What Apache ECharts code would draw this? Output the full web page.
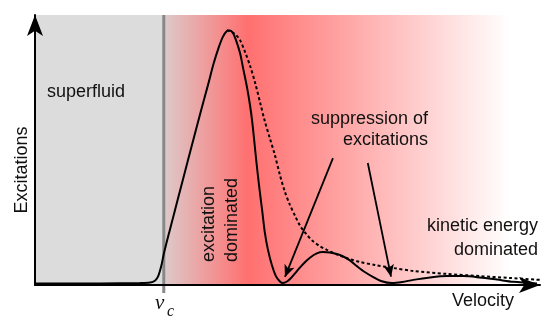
<!DOCTYPE html>
<html>
<head>
<meta charset="utf-8">
<script src="https://cdn.jsdelivr.net/npm/echarts@6/dist/echarts.min.js"></script>
<style>
  html, body { margin: 0; padding: 0; background: #ffffff; }
  #chart { width: 551px; height: 321px; }
</style>
</head>
<body>
<div id="chart"></div>
<script>
// Critical velocity v_c separating the superfluid regime
const criticalVelocity = 2.55;

// Excitations vs velocity, full response (solid curve)
const solidVelocity = [0, 1.29, 2.08, 2.28, 2.38, 2.44, 2.50, 2.55, 2.67, 2.83, 3.03, 3.27, 3.43, 3.54, 3.64, 3.72, 3.80, 3.86, 3.92, 3.98, 4.06, 4.12, 4.20, 4.26, 4.30, 4.34, 4.38, 4.44, 4.50, 4.55, 4.61, 4.69, 4.77, 4.85, 4.91, 4.99, 5.07, 5.19, 5.31, 5.45, 5.58, 5.70, 5.84, 6.04, 6.22, 6.38, 6.53, 6.69, 6.85, 7.07, 7.27, 7.49, 7.82, 8.16, 8.48, 8.81, 9.15, 9.47, 9.94];
const solidExcitations = [0.006, 0.006, 0.007, 0.009, 0.017, 0.033, 0.070, 0.115, 0.204, 0.319, 0.463, 0.633, 0.744, 0.822, 0.881, 0.919, 0.941, 0.943, 0.933, 0.907, 0.859, 0.804, 0.730, 0.663, 0.607, 0.537, 0.463, 0.363, 0.274, 0.196, 0.133, 0.074, 0.033, 0.013, 0.007, 0.013, 0.026, 0.052, 0.078, 0.102, 0.117, 0.122, 0.120, 0.111, 0.093, 0.069, 0.048, 0.030, 0.015, 0.007, 0.011, 0.019, 0.028, 0.033, 0.033, 0.028, 0.020, 0.012, 0.006];

// Excitations without suppression (dashed curve)
const dashedVelocity = [3.80, 3.90, 3.98, 4.06, 4.16, 4.26, 4.36, 4.46, 4.55, 4.65, 4.75, 4.85, 4.95, 5.05, 5.15, 5.25, 5.37, 5.50, 5.64, 5.78, 5.98, 6.20, 6.44, 6.73, 7.09, 7.49, 8.16, 8.81, 9.41, 10.00];
const dashedExcitations = [0.944, 0.937, 0.926, 0.907, 0.863, 0.811, 0.748, 0.674, 0.607, 0.544, 0.481, 0.407, 0.344, 0.296, 0.256, 0.219, 0.189, 0.163, 0.144, 0.130, 0.113, 0.098, 0.085, 0.074, 0.063, 0.052, 0.041, 0.033, 0.026, 0.019];

// Annotation arrows pointing at the suppressed minima: [fromV, fromE, toV, toE]
const suppressionArrows = [
  [5.90, 0.470, 4.95, 0.030],
  [6.59, 0.452, 7.05, 0.031]
];

const zip = (xs, ys) => xs.map((x, i) => [x, ys[i]]);

const font = '"Liberation Sans", Arial, Helvetica, sans-serif';
const mathFont = '"Liberation Serif", "DejaVu Serif", serif';
const textColor = '#111111';

const chart = echarts.init(document.getElementById('chart'), null, { renderer: 'canvas' });

function label(text, x, y, opts) {
  return Object.assign({
    type: 'text', x: x, y: y, z: 100,
    style: Object.assign({ text: text, font: '18px ' + font, fill: textColor,
      textAlign: 'left', textVerticalAlign: 'middle' }, opts && opts.style)
  }, opts && opts.rotation ? { rotation: opts.rotation } : {});
}

chart.setOption({
  animation: false,
  backgroundColor: '#ffffff',
  grid: { left: 35, right: 11, top: 15, bottom: 36 },
  xAxis: {
    type: 'value', min: 0, max: 10, z: 10,
    axisLine: { show: true, symbol: ['none', 'arrow'], symbolSize: [12, 21],
      lineStyle: { color: '#000000', width: 2 } },
    axisTick: { show: false }, axisLabel: { show: false }, splitLine: { show: false }
  },
  yAxis: {
    type: 'value', min: 0, max: 1, z: 10,
    axisLine: { show: true, symbol: ['none', 'arrow'], symbolSize: [12, 21],
      lineStyle: { color: '#000000', width: 2 } },
    axisTick: { show: false }, axisLabel: { show: false }, splitLine: { show: false }
  },
  series: [
    {
      // regime backgrounds
      type: 'line', data: [], silent: true,
      markArea: {
        silent: true,
        data: [
          [{ coord: [0, 0], itemStyle: { color: '#dcdcdc' } }, { coord: [criticalVelocity, 1] }],
          [{
            coord: [criticalVelocity, 0],
            itemStyle: {
              color: new echarts.graphic.LinearGradient(0, 0, 1, 0, [
                { offset: 0, color: '#ddcaca' },
                { offset: 0.223, color: '#ff7070' },
                { offset: 0.92, color: '#ffffff' },
                { offset: 1, color: '#ffffff' }
              ])
            }
          }, { coord: [10, 1] }]
        ]
      }
    },
    {
      // critical velocity marker
      type: 'line', clip: false, silent: true, symbol: 'none',
      data: [[criticalVelocity, -0.03], [criticalVelocity, 1]],
      lineStyle: { color: '#888888', width: 3 },
      z: 3
    },
    {
      type: 'line', name: 'unsuppressed', symbol: 'none', smooth: 0.3,
      data: zip(dashedVelocity, dashedExcitations),
      lineStyle: { color: '#000000', width: 2, type: [3, 2.5] },
      z: 4
    },
    {
      type: 'line', name: 'excitations', symbol: 'none', smooth: 0.3,
      data: zip(solidVelocity, solidExcitations),
      lineStyle: { color: '#000000', width: 2 },
      z: 5,
      markLine: {
        silent: true,
        symbol: ['none', 'arrow'],
        symbolSize: [8, 12],
        label: { show: false },
        lineStyle: { color: '#000000', width: 1.8, type: 'solid' },
        data: suppressionArrows.map(a => [{ coord: [a[0], a[1]] }, { coord: [a[2], a[3]] }])
      }
    }
  ],
  graphic: [
    label('superfluid', 47, 92),
    label('Excitations', 22, 170, { rotation: Math.PI / 2, style: { textAlign: 'center' } }),
    label('excitation', 209, 262, { rotation: Math.PI / 2 }),
    label('dominated', 232, 262, { rotation: Math.PI / 2 }),
    label('suppression of', 428, 119, { style: { textAlign: 'right' } }),
    label('excitations', 428, 140, { style: { textAlign: 'right' } }),
    label('kinetic energy', 538, 226, { style: { textAlign: 'right' } }),
    label('dominated', 538, 250, { style: { textAlign: 'right' } }),
    label('Velocity', 483, 301, { style: { textAlign: 'center' } }),
    label('v', 155, 303, { style: { font: 'italic 21px ' + mathFont } }),
    label('c', 167, 312, { style: { font: 'italic 16px ' + mathFont } })
  ]
});
</script>
</body>
</html>
